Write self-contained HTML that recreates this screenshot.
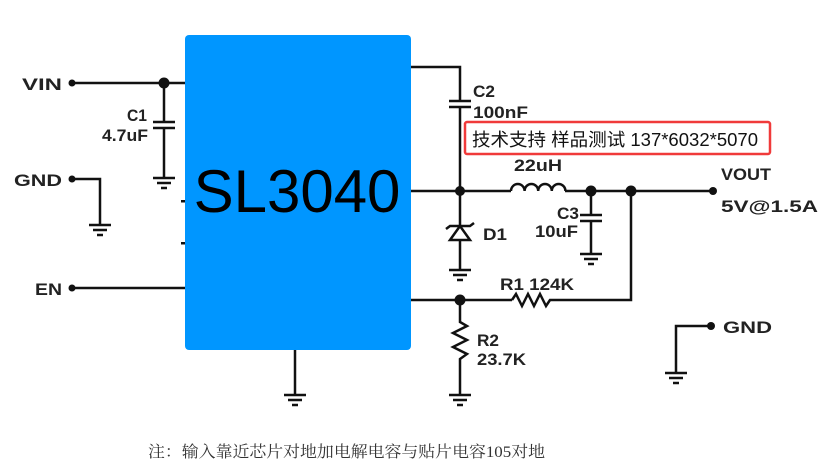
<!DOCTYPE html>
<html><head><meta charset="utf-8"><style>
html,body{margin:0;padding:0;background:#fff;}
svg{display:block;}
.l{font-family:"Liberation Sans",sans-serif;font-weight:bold;font-size:17px;fill:#222;}
</style></head><body>
<svg width="833" height="466" viewBox="0 0 833 466" xmlns="http://www.w3.org/2000/svg">
<defs>
<g id="gnd" stroke="#111" stroke-width="2.5">
<line x1="-11" y1="0" x2="11" y2="0"/><line x1="-7" y1="5" x2="7" y2="5"/><line x1="-3" y1="10" x2="3" y2="10"/>
</g>
</defs>
<g stroke="#111" stroke-width="2.5" fill="none">
<line x1="72" y1="83" x2="186" y2="83"/>
<line x1="164" y1="83" x2="164" y2="122"/>
<line x1="153" y1="122" x2="175" y2="122"/><line x1="153" y1="128" x2="175" y2="128"/>
<line x1="164" y1="128" x2="164" y2="178"/>
<polyline points="72,179 100,179 100,225"/>
<line x1="72" y1="288" x2="186" y2="288"/>
<line x1="295" y1="350" x2="295" y2="394"/>
<polyline points="411,67 460,67 460,101"/>
<line x1="449" y1="101" x2="471" y2="101"/><line x1="449" y1="107" x2="471" y2="107"/>
<line x1="460" y1="107" x2="460" y2="191"/>
<line x1="411" y1="191" x2="511" y2="191"/>
<path d="M511 191 a6.8 7 0 0 1 13.6 0 a6.8 7 0 0 1 13.6 0 a6.8 7 0 0 1 13.6 0 a6.8 7 0 0 1 13.6 0"/>
<line x1="565" y1="191" x2="713" y2="191"/>
<line x1="591" y1="191" x2="591" y2="215"/>
<line x1="580" y1="215" x2="602" y2="215"/><line x1="580" y1="221" x2="602" y2="221"/>
<line x1="591" y1="221" x2="591" y2="254"/>
<line x1="460" y1="191" x2="460" y2="270"/>
<line x1="411" y1="300" x2="512" y2="300"/>
<polyline points="512,300 516,294 522,306 528,294 534,306 540,294 546,306 550,300 631,300 631,191"/>
<polyline points="460,300 460,322 467,326 453,333 467,340 453,347 467,354 460,359 460,394"/>
<polyline points="711,326 676,326 676,373"/>
</g>
<polygon points="460,226 450,240 470,240" fill="#fff" stroke="#111" stroke-width="2.5"/>
<polyline points="446,229 450,226 470,226 474,223" fill="none" stroke="#111" stroke-width="2.5"/>
<use href="#gnd" x="164" y="178"/>
<use href="#gnd" x="100" y="225"/>
<use href="#gnd" x="295" y="395"/>
<use href="#gnd" x="460" y="270"/>
<use href="#gnd" x="460" y="395"/>
<use href="#gnd" x="591" y="254"/>
<use href="#gnd" x="676" y="373"/>
<g fill="#111">
<circle cx="72" cy="83" r="3.5"/><circle cx="164" cy="83" r="5.5"/>
<circle cx="72" cy="179" r="3.5"/><circle cx="72" cy="288" r="3.5"/>
<circle cx="460" cy="191" r="5"/><circle cx="591" cy="191" r="5.5"/><circle cx="631" cy="191" r="5.5"/>
<circle cx="713" cy="191" r="4"/><circle cx="460" cy="300" r="5.5"/><circle cx="711" cy="326" r="4"/>
<rect x="181" y="200" width="4" height="2.5"/><rect x="181" y="242" width="4" height="2.5"/>
</g>
<rect x="185" y="35" width="226" height="315" rx="4" fill="#0096ff"/>
<text x="297" y="212" text-anchor="middle" font-family="Liberation Sans,sans-serif" font-size="60" fill="#000">SL3040</text>
<text class="l" x="22" y="90" font-size="20" textLength="40" lengthAdjust="spacingAndGlyphs">VIN</text>
<text class="l" x="14" y="186" font-size="20" textLength="48" lengthAdjust="spacingAndGlyphs">GND</text>
<text class="l" x="35" y="295" font-size="20" textLength="27" lengthAdjust="spacingAndGlyphs">EN</text>
<text class="l" x="127" y="121" textLength="20" lengthAdjust="spacingAndGlyphs">C1</text>
<text class="l" x="102" y="141" textLength="46" lengthAdjust="spacingAndGlyphs">4.7uF</text>
<text class="l" x="473" y="97" textLength="22" lengthAdjust="spacingAndGlyphs">C2</text>
<text class="l" x="473" y="118" textLength="55" lengthAdjust="spacingAndGlyphs">100nF</text>
<text class="l" x="514" y="171" textLength="48" lengthAdjust="spacingAndGlyphs">22uH</text>
<text class="l" x="557" y="219" textLength="22" lengthAdjust="spacingAndGlyphs">C3</text>
<text class="l" x="535" y="237" textLength="43" lengthAdjust="spacingAndGlyphs">10uF</text>
<text class="l" x="483" y="240" textLength="24" lengthAdjust="spacingAndGlyphs">D1</text>
<text class="l" x="500" y="290" textLength="74" lengthAdjust="spacingAndGlyphs">R1 124K</text>
<text class="l" x="477" y="346" textLength="22" lengthAdjust="spacingAndGlyphs">R2</text>
<text class="l" x="477" y="365" textLength="49" lengthAdjust="spacingAndGlyphs">23.7K</text>
<text class="l" x="721" y="180" textLength="50" lengthAdjust="spacingAndGlyphs">VOUT</text>
<text class="l" x="721" y="212" font-size="20" textLength="97" lengthAdjust="spacingAndGlyphs">5V@1.5A</text>
<text class="l" x="723" y="333" font-size="20" textLength="49" lengthAdjust="spacingAndGlyphs">GND</text>
<rect x="465" y="122" width="305" height="32" rx="2" fill="#fff" stroke="#f03a3a" stroke-width="2.5"/>
<text x="472" y="146" font-family="Liberation Sans,'Noto Sans CJK SC',sans-serif" font-size="18" fill="#111" textLength="286" lengthAdjust="spacingAndGlyphs">技术支持 样品测试 137*6032*5070</text>
<text x="148" y="457" font-family="'Liberation Serif','Noto Serif CJK SC',serif" font-size="16" fill="#333" textLength="397" lengthAdjust="spacingAndGlyphs">注：输入靠近芯片对地加电解电容与贴片电容105对地</text>
</svg>
</body></html>
